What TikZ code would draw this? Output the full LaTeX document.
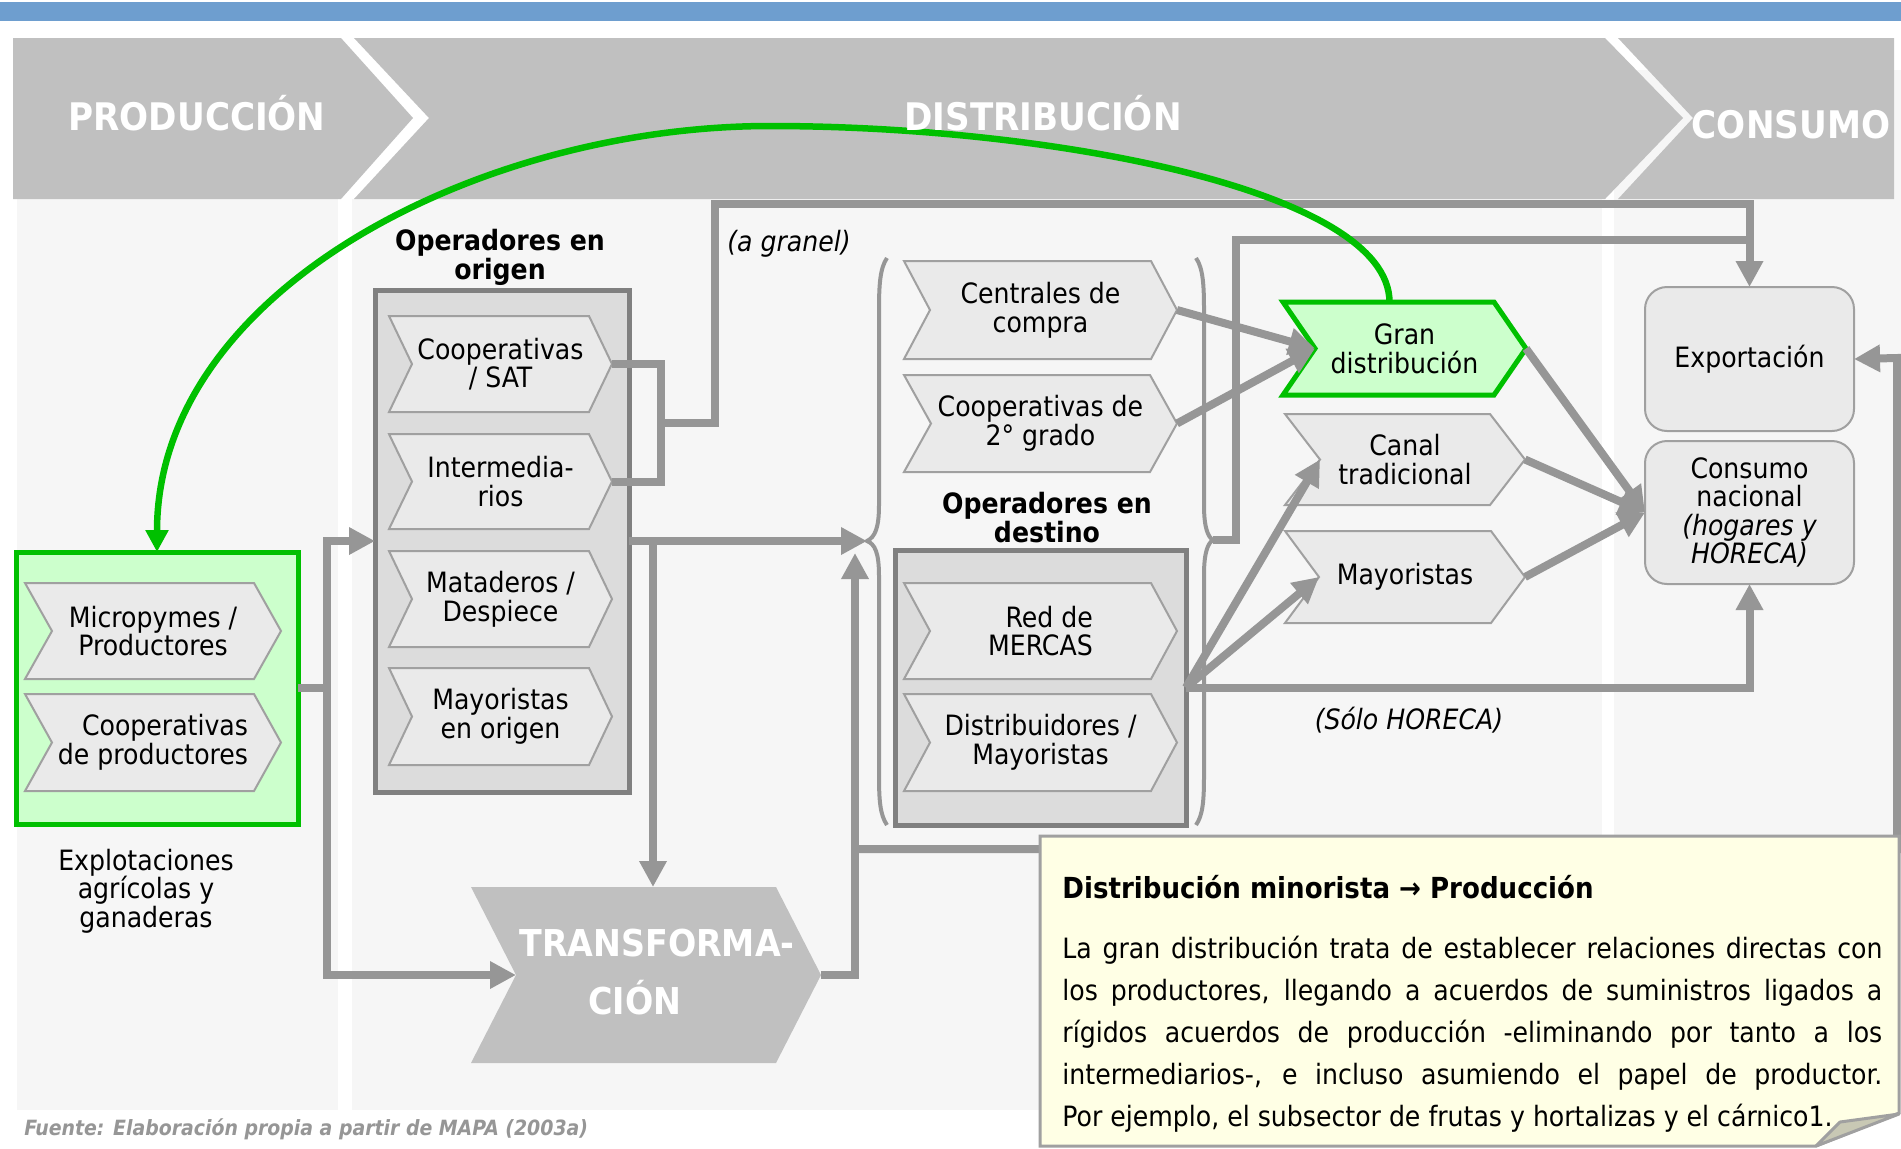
\documentclass[tikz,border=0pt]{standalone}
\usepackage{fontspec}
\setmainfont{DejaVu Sans Condensed}
\usetikzlibrary{arrows.meta}
\definecolor{bluebar}{RGB}{110,158,207}
\definecolor{hdr}{RGB}{192,192,192}
\definecolor{panel}{RGB}{246,246,246}
\definecolor{chevfill}{RGB}{234,234,234}
\definecolor{chevline}{RGB}{160,160,160}
\definecolor{boxfill}{RGB}{220,220,220}
\definecolor{boxline}{RGB}{128,128,128}
\definecolor{lineg}{RGB}{150,150,150}
\definecolor{grn}{RGB}{0,192,0}
\definecolor{grnfill}{RGB}{204,255,204}
\definecolor{notefill}{RGB}{255,255,229}
\definecolor{foldfill}{RGB}{200,200,180}
\newcommand\lblfont{\fontsize{14}{14.3}\selectfont}
\newcommand\optfont{\fontsize{14}{14.5}\selectfont\bfseries}
\newcommand\hdrfont{\fontsize{19}{19}\selectfont\bfseries}
\newcommand\trfont{\fontsize{18.5}{18.5}\selectfont\bfseries}
\newcommand\itfont{\fontsize{14}{14}\selectfont\itshape}
\newcommand\ntitlefont{\fontsize{14.5}{14.5}\selectfont\bfseries}
\newcommand\nbodyfont{\fontsize{14}{21}\selectfont}
\newcommand\srcfont{\fontsize{10.5}{10.5}\selectfont\bfseries\itshape}
% chevron: [node opts]{poly style}{name}{x left}{y top}{x right}{y bottom}{depth}{text}
\newcommand\chev[9][]{%
  \path[#2] (#4,#5) -- ({#6-#8},#5) -- (#6,{(#5+#7)/2}) -- ({#6-#8},#7) -- (#4,#7) -- ({#4+#8},{(#5+#7)/2}) -- cycle;
  \coordinate (#3-n) at ({#4+#8},{(#5+#7)/2});
  \node[chevtxt, minimum width={(#6-#4)*0.5pt}, minimum height={(#7-#5)*0.5pt}, #1] (#3) at ({(#4+#6)/2},{(#5+#7)/2}) {#9};
}
\begin{document}
\begin{tikzpicture}[x=0.5pt,y=-0.5pt,
  link/.style={draw=lineg, line width=4pt},
  linkarr/.style={link, -{Triangle[length=13pt,width=13pt]}},
  grnarr/.style={draw=grn, line width=3.25pt, -{Triangle[length=11pt,width=11pt]}},
  chevgray/.style={fill=chevfill, draw=chevline, line width=1pt},
  chevgreen/.style={fill=grnfill, draw=grn, line width=2.5pt},
  transshape/.style={fill=hdr},
  chevtxt/.style={inner sep=0pt, outer sep=0pt, font=\lblfont, align=center},
  opbox/.style={fill=boxfill, draw=boxline, line width=2.5pt, inner sep=0pt, outer sep=0pt},
  grnbox/.style={fill=grnfill, draw=grn, line width=2.5pt, inner sep=0pt, outer sep=0pt},
  rbox/.style={fill=chevfill, draw=chevline, line width=1pt, rounded corners=11pt, inner sep=0pt, outer sep=0pt, align=center, font=\lblfont},
  hdrtxt/.style={text=white, font=\hdrfont, inner sep=0pt, anchor=base},
  trtxt/.style={text=white, font=\trfont, inner sep=0pt, anchor=base},
  optitle/.style={font=\optfont, align=center, inner sep=0pt},
  ital/.style={font=\itfont, inner sep=0pt},
  brace/.style={draw=lineg, line width=2pt},
  notebox/.style={fill=notefill, draw=chevline, line width=1.5pt},
  fold/.style={fill=foldfill, draw=chevline, line width=1.5pt, line join=round},
]
\fill[white] (0,0) rectangle (1901,1148);
\useasboundingbox (0,0) rectangle (1901,1148);
\fill[bluebar] (0,2) rectangle (1901,21);
% panels
\fill[panel] (17,199) rectangle (338,1110);
\fill[panel] (352,199) rectangle (1602,1110);
\fill[panel] (1614,70) rectangle (1901,1110);
% header arrows
\fill[hdr] (13,38) -- (341,38) -- (413,118) -- (341,199) -- (13,199) -- cycle;
\fill[hdr] (354,38) -- (1605,38) -- (1683,118) -- (1605,199) -- (354,199) -- (429,118) -- cycle;
\fill[hdr] (1618,38) -- (1894,38) -- (1894,199) -- (1618,199) -- (1693,118) -- cycle;

% production
\node[grnbox, minimum width=141pt, minimum height=136pt] (prodbox) at (157,688) {};
\chev{chevgray}{micro}{25}{583}{281}{679}{27}{Micropymes /\\Productores}
\chev[align=right]{chevgray}{coopp}{25}{694}{281}{791}{27}{Cooperativas\\de productores}
\node[chevtxt] (explot) at (146,891) {Explotaciones\\agrícolas y\\ganaderas};

% operadores en origen
\node[optitle] (otitle) at (500,257) {Operadores en\\origen};
\node[opbox, minimum width=127pt, minimum height=251pt] (obox) at (502,541) {};
\chev{chevgray}{coopsat}{389}{316}{612}{412}{23}{Cooperativas\\/ SAT}
\chev{chevgray}{interm}{389}{434}{612}{529}{23}{Intermedia-\\rios}
\chev{chevgray}{matad}{389}{551}{612}{647}{23}{Mataderos /\\Despiece}
\chev{chevgray}{mayori}{389}{668}{612}{765}{23}{Mayoristas\\en origen}

% transformacion
\chev{transshape}{transf}{471}{887}{821}{1063}{45}{}
\node[trtxt] (transA) at (657,956) {TRANSFORMA-};
\node[trtxt] (transB) at (635,1014) {CIÓN};

% operadores en destino
\chev{chevgray}{centr}{904}{261}{1177}{359}{26}{Centrales de\\compra}
\chev{chevgray}{coop2}{904}{375}{1177}{472}{27}{Cooperativas de\\2° grado}
\node[optitle] (dtitle) at (1047,518) {Operadores en\\destino};
\node[opbox, minimum width=145.5pt, minimum height=137.5pt] (dbox) at (1040.5,687.5) {};
\chev[align=right]{chevgray}{mercas}{904}{583}{1177}{679}{26}{Red de\\MERCAS}
\chev{chevgray}{distr}{904}{694}{1177}{791}{26}{Distribuidores /\\Mayoristas}

% braces
\draw[brace] (887,258) .. controls (880,268) and (879,285) .. (879,310) -- (879,505)
  .. controls (879,528) and (875,537) .. (867,541) .. controls (875,544) and (879,553) .. (879,576)
  -- (879,775) .. controls (879,800) and (880,815) .. (887,825);
\draw[brace] (1196,258) .. controls (1203,268) and (1204,285) .. (1204,310) -- (1204,505)
  .. controls (1204,528) and (1208,537) .. (1213,540) .. controls (1208,543) and (1204,552) .. (1204,575)
  -- (1204,775) .. controls (1204,800) and (1203,815) .. (1196,825);
\coordinate (lbt) at (867,541);
\coordinate (rbt) at (1213,540);

% minoristas
\chev{chevgreen}{gran}{1283}{302}{1526}{395}{32}{Gran\\distribución}
\chev{chevgray}{canal}{1285}{414}{1525}{505}{35}{Canal\\tradicional}
\chev{chevgray}{mayor}{1285}{531}{1525}{623}{34}{Mayoristas}

% consumo
\node[rbox, minimum width=104.5pt, minimum height=72pt] (export) at (1749.5,359) {Exportación};
\node[rbox, minimum width=104.5pt, minimum height=71.5pt] (consumo) at (1749.5,512.5) {Consumo\\nacional\\{\itshape (hogares y}\\{\itshape HORECA)}};

% labels
\node[ital] (granel) at (789,244) {(a granel)};
\node[ital] (horeca) at (1409,720) {(Sólo HORECA)};

% connectors
\coordinate (j1) at (327,688);
\draw[link] (prodbox.east) -- (j1);
\draw[linkarr] (j1) |- (obox.west);
\draw[linkarr] (j1) |- (transf-n);
\coordinate (j2) at (661,423);
\draw[link] (coopsat.east) -| (j2) |- (interm.east);
\coordinate (g1) at (715,204);
\draw[linkarr] (j2) -| (g1) -| (export.north);
\draw[linkarr] (obox.east) -- (lbt);
\coordinate (j3) at (653,541);
\draw[linkarr] (j3) -- (j3 |- transf.north);
\coordinate (tb) at (855,553);
\draw[linkarr] (transf.east) -| (tb);
\coordinate (j5) at (855,849);
\coordinate (xr) at (1897,358);
\draw[linkarr] (j5) -| (xr) -- (export.east);
\coordinate (rj) at (1236,240);
\draw[link] (rbt) -| (rj) -- (rj -| export.north);
\draw[linkarr] (centr.east) -- (gran-n);
\draw[linkarr] (coop2.east) -- (gran-n);
\draw[linkarr] (gran.east) -- (consumo.west);
\draw[linkarr] (canal.east) -- (consumo.west);
\draw[linkarr] (mayor.east) -- (consumo.west);
\draw[linkarr] (dbox.east) -- (canal-n);
\draw[linkarr] (dbox.east) -- (mayor-n);
\draw[linkarr] (dbox.east) -| (consumo.south);

% note
\path[notebox] (1040,836) -- (1899,836) -- (1899,1113) -- (1816,1146) -- (1040,1146) -- cycle;
\node[font=\ntitlefont, anchor=west, inner sep=0pt] (ntitle) at (1062,887) {Distribución minorista → Producción};
\node[font=\nbodyfont, anchor=west, align=left, inner sep=0pt] (nbody) at (1062,1034) {%
\makebox[410pt][s]{La gran distribución trata de establecer relaciones directas con}\\
\makebox[410pt][s]{los productores, llegando a acuerdos de suministros ligados a}\\
\makebox[410pt][s]{rígidos acuerdos de producción -eliminando por tanto a los}\\
\makebox[410pt][s]{intermediarios-, e incluso asumiendo el papel de productor.}\\
Por ejemplo, el subsector de frutas y hortalizas y el cárnico1.};
\path[fold] (1816,1146) -- (1840,1122) -- (1899,1114) -- cycle;

% green feedback curve
\draw[grnarr] ([xshift=-7.5pt]gran.north) .. controls (1389,190) and (1050,126) .. (770,126)
  .. controls (480,126) and (157,290) .. (prodbox.north);

% header texts
\node[hdrtxt] (hprod) at (197,130) {PRODUCCIÓN};
\node[hdrtxt] (hdist) at (1043,130) {DISTRIBUCIÓN};
\node[hdrtxt] (hcons) at (1791,138) {CONSUMO};

% source
\node[font=\srcfont, text=lineg, anchor=base west, inner sep=0pt] (src) at (24,1135) {Fuente: Elaboración propia a partir de MAPA (2003a)};
\end{tikzpicture}
\end{document}
